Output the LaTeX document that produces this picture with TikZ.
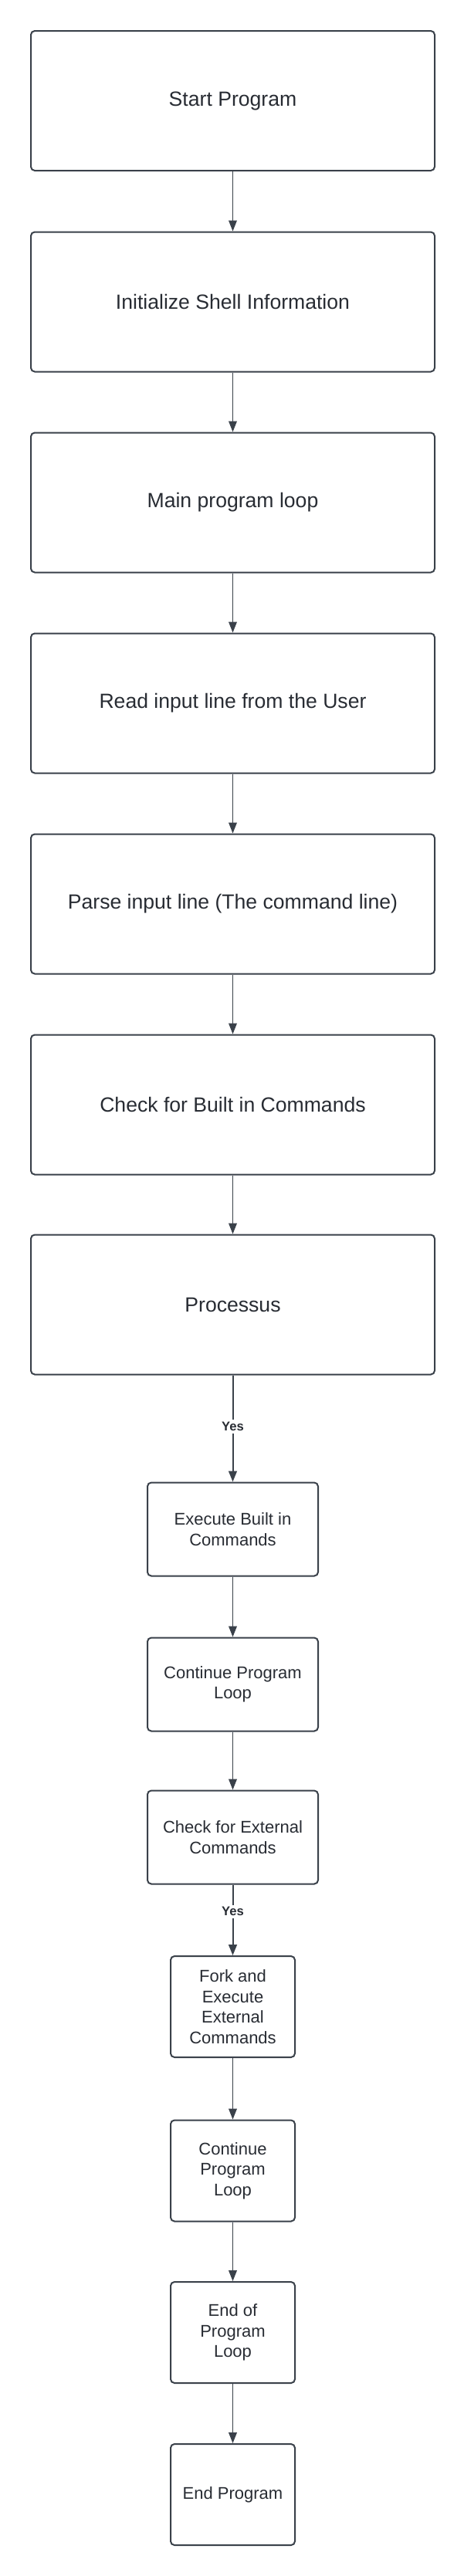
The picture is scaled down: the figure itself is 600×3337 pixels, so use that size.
\documentclass[tikz,border=0pt]{standalone}
\usepackage{fontspec}
\setmainfont{Liberation Sans}
\usetikzlibrary{arrows.meta}
\definecolor{linec}{HTML}{3A414A}
\definecolor{textc}{HTML}{282C33}
\begin{document}
\begin{tikzpicture}[x=0.5pt,y=-0.5pt,
  box/.style={draw=linec,line width=1pt,rounded corners=2.5pt,fill=white,text=textc,align=center,inner sep=0pt},
  bigbox/.style={box,minimum width=261.5pt,minimum height=90.5pt,font=\fontsize{13.3pt}{16pt}\selectfont},
  midbox/.style={box,minimum width=110.5pt,minimum height=60.5pt,font=\fontsize{11pt}{13.2pt}\selectfont},
  smallbox/.style={box,minimum width=80.5pt,minimum height=65.5pt,font=\fontsize{11pt}{13.3pt}\selectfont},
  conn/.style={draw=linec,line width=0.5pt,-{Triangle[length=7pt,width=5.4pt]}},
  yesconn/.style={draw=linec,line width=1pt,-{Triangle[length=7pt,width=5.4pt]}},
  yeslabel/.style={fill=white,text=textc,font=\bfseries\fontsize{8.3pt}{10pt}\selectfont,inner sep=1.5pt}]
\useasboundingbox (0,0) rectangle (600,3337);
\fill[white] (0,0) rectangle (600,3337);
\node[bigbox] (n1) at (301.5,130.5) {Start Program};
\node[bigbox] (n2) at (301.5,391) {Initialize Shell Information};
\node[bigbox] (n3) at (301.5,651) {Main program loop};
\node[bigbox] (n4) at (301.5,911) {Read input line from the User};
\node[bigbox] (n5) at (301.5,1171) {Parse input line (The command line)};
\node[bigbox] (n6) at (301.5,1431) {Check for Built in Commands};
\node[bigbox] (n7) at (301.5,1690) {Processus};
\node[midbox] (n8) at (301.5,1981) {Execute Built in\\Commands};
\node[midbox] (n9) at (301.5,2182) {Continue Program\\Loop};
\node[midbox] (n10) at (301.5,2380) {Check for External\\Commands};
\node[smallbox] (n11) at (301.5,2599.5) {Fork and\\Execute\\External\\Commands};
\node[smallbox] (n12) at (301.5,2812) {Continue\\Program\\Loop};
\node[smallbox] (n13) at (301.5,3021.5) {End of\\Program\\Loop};
\node[smallbox] (n14) at (301.5,3231.5) {End Program};
\draw[conn] (n1) -- (n2);
\draw[conn] (n2) -- (n3);
\draw[conn] (n3) -- (n4);
\draw[conn] (n4) -- (n5);
\draw[conn] (n5) -- (n6);
\draw[conn] (n6) -- (n7);
\draw[yesconn] (n7) -- node[yeslabel,pos=0.48] {Yes} (n8);
\draw[conn] (n8) -- (n9);
\draw[conn] (n9) -- (n10);
\draw[yesconn] (n10) -- node[yeslabel,pos=0.38] {Yes} (n11);
\draw[conn] (n11) -- (n12);
\draw[conn] (n12) -- (n13);
\draw[conn] (n13) -- (n14);
\end{tikzpicture}
\end{document}
